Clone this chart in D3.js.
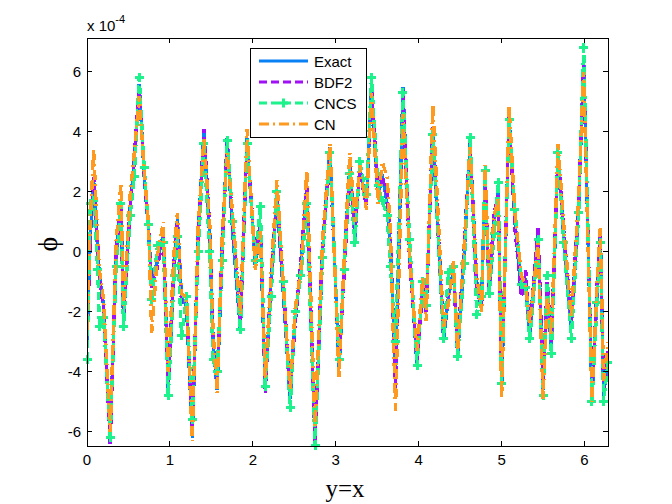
<!DOCTYPE html>
<html>
<head>
<meta charset="utf-8">
<script src="https://cdn.jsdelivr.net/npm/d3@7"></script>
<style>
  body { margin: 0; background: #fff; }
  text { font-family: "Liberation Sans", Arial, sans-serif; }
</style>
</head>
<body>
<div id="chart"></div>
<script>
// sample positions along y=x (0 .. 2*pi)
const xs = [0.00, 0.04, 0.08, 0.13, 0.15, 0.20, 0.28, 0.35, 0.41, 0.44,
  0.52, 0.57, 0.63, 0.69, 0.74, 0.78, 0.85, 0.92, 0.98, 1.05,
  1.09, 1.14, 1.20, 1.27, 1.34, 1.41, 1.48, 1.52, 1.57, 1.63,
  1.69, 1.76, 1.85, 1.93, 2.03, 2.09, 2.15, 2.22, 2.29, 2.37,
  2.45, 2.51, 2.58, 2.65, 2.75, 2.84, 2.93, 3.04, 3.10, 3.17,
  3.23, 3.29, 3.37, 3.43, 3.51, 3.56, 3.62, 3.66, 3.72, 3.81,
  3.89, 3.98, 4.05, 4.09, 4.17, 4.30, 4.36, 4.42, 4.47, 4.55,
  4.62, 4.70, 4.76, 4.80, 4.85, 4.91, 4.96, 5.00, 5.09, 5.16,
  5.24, 5.29, 5.34, 5.44, 5.50, 5.55, 5.60, 5.68, 5.75, 5.84,
  5.93, 5.99, 6.09, 6.15, 6.19, 6.23, 6.283];

// phi values, in units of 1e-4
const exact = [-3.0, 0.5, 2.4, 0.0, -0.8, -1.8, -6.2, -0.2, 1.6, -2.3,
  1.5, 3.0, 5.6, 2.5, 0.8, -1.0, -0.3, 0.6, -4.6, -0.5,
  1.1, -1.5, -1.8, -6.2, 0.5, 4.1, 0.5, -3.0, -4.6, 0.0,
  3.8, 0.5, -2.6, 3.8, -0.5, 0.8, -4.6, -1.0, 1.8, -1.5,
  -4.9, -2.2, -0.5, 2.2, -6.4, 0.0, 3.5, -3.9, -0.5, 2.9,
  0.5, 2.8, 1.6, 5.6, 1.8, 2.6, 1.6, 0.2, -4.2, 5.5,
  0.0, -3.8, -1.0, -2.0, 4.0, -2.9, -1.5, -0.6, -3.5, 0.0,
  3.6, -1.0, -1.6, 2.7, -1.4, 1.0, 2.1, -4.6, 4.5, 1.0,
  -1.2, -1.0, -2.9, 0.6, -4.6, -1.2, -3.2, 3.2, 0.5, -2.5,
  1.5, 6.4, -4.9, -1.5, 0.8, -4.8, -3.5];

const bdf2 = [-3.2, 0.6, 2.5, 0.2, -0.9, -1.9, -6.4, 0.0, 1.7, -2.2,
  1.5, 3.2, 5.5, 2.6, 0.9, -1.2, -0.5, 0.5, -4.4, -0.3,
  1.0, -1.7, -1.6, -6.0, 0.4, 4.1, 0.8, -2.9, -4.3, 0.2,
  3.6, 0.8, -2.3, 3.7, -0.2, 1.0, -4.7, -0.8, 1.9, -1.2,
  -4.7, -2.4, -0.3, 2.3, -6.3, 0.2, 3.2, -3.7, -0.8, 2.8,
  0.7, 2.7, 1.5, 5.5, 2.0, 2.5, 1.9, 0.5, -4.6, 5.4,
  -0.3, -3.6, -1.2, -2.0, 4.2, -2.7, -1.3, -0.8, -3.2, 0.3,
  3.7, -1.3, -1.8, 2.6, -1.2, 1.3, 1.9, -4.4, 4.6, 0.8,
  -1.5, -0.6, -2.6, 0.8, -4.4, -1.0, -3.0, 3.3, 0.7, -2.3,
  1.7, 6.3, -4.7, -1.2, 0.6, -4.6, -3.3];

const cncs = [-3.6, 1.6, 1.7, -0.6, -2.5, -2.2, -6.2, -0.5, 1.6, -2.5,
  1.2, 2.5, 5.8, 2.8, 0.9, -1.6, 0.2, 0.3, -4.8, -0.8,
  0.5, -2.8, -1.5, -5.6, 0.0, 3.6, 0.0, -3.6, -4.0, -0.3,
  3.7, 1.0, -2.6, 3.6, -0.3, 1.5, -4.5, -1.5, 2.0, -1.0,
  -5.2, -2.0, -0.8, 1.6, -6.45, -0.2, 3.3, -3.6, -0.6, 2.6,
  0.3, 3.0, 1.9, 5.8, 2.2, 1.7, 1.2, -0.5, -3.0, 5.3,
  0.4, -3.8, -1.0, -1.8, 3.9, -2.9, -0.7, -0.5, -3.5, -0.4,
  3.8, -2.1, -1.5, 2.7, -1.4, 0.6, 2.3, -4.4, 4.4, 1.4,
  -1.1, -1.2, -2.9, 0.4, -4.8, -0.8, -3.4, 3.3, 0.3, -2.9,
  1.3, 6.8, -5.0, -1.7, 0.3, -5.0, -3.7];

const cn = [-2.6, 1.0, 3.4, 0.4, -0.6, -1.6, -6.0, 0.3, 2.3, -1.8,
  1.9, 3.3, 5.2, 2.7, 1.0, -2.7, -0.1, 1.0, -4.0, 0.0,
  1.3, -1.4, -1.5, -6.3, 0.8, 3.8, 1.0, -2.6, -4.7, 0.5,
  3.3, 1.2, -2.1, 4.1, -0.6, 0.7, -4.2, -0.7, 2.4, -1.2,
  -4.6, -1.9, -0.6, 2.7, -5.8, 0.4, 3.6, -4.2, -0.3, 3.3,
  1.0, 2.9, 1.4, 5.3, 1.6, 3.0, 2.5, 0.6, -5.3, 4.6,
  -0.2, -3.3, -0.8, -2.3, 4.9, -2.5, -1.7, -0.3, -3.3, 0.3,
  3.5, -0.8, -2.0, 2.9, -1.0, 1.2, 1.8, -4.9, 4.9, 1.3,
  -0.8, -1.1, -2.4, 0.3, -4.9, -1.5, -2.8, 3.6, 0.9, -2.2,
  1.9, 6.0, -5.0, -1.1, 0.8, -4.3, -3.0];

const xTicks = [0, 1, 2, 3, 4, 5, 6];
const yTicks = [-6, -4, -2, 0, 2, 4, 6];
const names = ["Exact", "BDF2", "CNCS", "CN"];
const colors = ["#0a80f5", "#a010f5", "#1ef28c", "#ff9a20"];
const dashes = [null, "8,4", "8,4", "10,4,2,4"];

const W = 672, H = 504;
const margin = { top: 38, right: 64, bottom: 58, left: 87 };
const width = W - margin.left - margin.right;
const height = H - margin.top - margin.bottom;

const svg = d3.select("#chart").append("svg")
    .attr("width", W)
    .attr("height", H);

const g = svg.append("g")
    .attr("transform", "translate(" + margin.left + "," + margin.top + ")");

const x = d3.scaleLinear().domain([0, 2 * Math.PI]).range([0, width]);
const y = d3.scaleLinear().domain([-6.47, 7.13]).range([height, 0]);

g.append("clipPath").attr("id", "clip")
  .append("rect").attr("width", width).attr("height", height);

const line = d3.line()
    .x((d, i) => x(xs[i]))
    .y(d => y(d));

const series = [exact, bdf2, cncs, cn];

series.forEach((s, k) => {
    g.append("path")
        .datum(s)
        .attr("clip-path", "url(#clip)")
        .attr("d", line)
        .attr("fill", "none")
        .attr("stroke", colors[k])
        .attr("stroke-width", 3.4)
        .attr("shape-rendering", "crispEdges")
        .attr("stroke-dasharray", dashes[k]);
    if (k === 2) {
        // plus markers for CNCS
        g.append("g").selectAll("path")
            .data(s)
            .enter().append("path")
            .attr("d", (d, i) => {
                const cx = x(xs[i]), cy = y(d);
                return `M${cx - 4.5},${cy}H${cx + 4.5}M${cx},${cy - 4.5}V${cy + 4.5}`;
            })
            .attr("stroke", colors[2])
            .attr("stroke-width", 3)
            .attr("shape-rendering", "crispEdges")
            .attr("fill", "none");
    }
});

// box with inward ticks on every side
g.append("rect")
    .attr("width", width).attr("height", height)
    .attr("fill", "none").attr("stroke", "#000").attr("stroke-width", 1)
    .attr("shape-rendering", "crispEdges");

const tk = 5;
const axisG = g.append("g").attr("stroke", "#000").attr("shape-rendering", "crispEdges");
xTicks.forEach(t => {
    axisG.append("line").attr("x1", x(t)).attr("x2", x(t)).attr("y1", height).attr("y2", height - tk);
    axisG.append("line").attr("x1", x(t)).attr("x2", x(t)).attr("y1", 0).attr("y2", tk);
});
yTicks.forEach(t => {
    axisG.append("line").attr("x1", 0).attr("x2", tk).attr("y1", y(t)).attr("y2", y(t));
    axisG.append("line").attr("x1", width).attr("x2", width - tk).attr("y1", y(t)).attr("y2", y(t));
});

g.selectAll(".xl").data(xTicks).enter().append("text")
    .attr("x", d => x(d)).attr("y", height + 19)
    .attr("text-anchor", "middle").attr("font-size", 15)
    .text(d => d);

g.selectAll(".yl").data(yTicks).enter().append("text")
    .attr("x", -6).attr("y", d => y(d) + 5.5)
    .attr("text-anchor", "end").attr("font-size", 15)
    .text(d => d);

// exponent label
const ex = svg.append("text").attr("x", 87).attr("y", 31).attr("font-size", 15);
ex.append("tspan").text("x 10");
ex.append("tspan").attr("dy", -8).attr("font-size", 11).text("-4");

// axis labels
svg.append("text")
    .attr("x", 345).attr("y", 497)
    .attr("text-anchor", "middle")
    .style("font-family", "'Liberation Serif', 'Times New Roman', serif")
    .attr("font-size", 25)
    .text("y=x");

svg.append("text")
    .attr("transform", "translate(57,244) rotate(-90)")
    .attr("text-anchor", "middle")
    .style("font-family", "'Liberation Serif', 'Times New Roman', serif")
    .attr("font-size", 28)
    .text("ϕ");

// legend
const lg = svg.append("g");
lg.append("rect")
    .attr("x", 250).attr("y", 48).attr("width", 116).attr("height", 89)
    .attr("fill", "#fff").attr("stroke", "#000").attr("shape-rendering", "crispEdges");
const rows = [61, 82, 103, 124];
names.forEach((n, k) => {
    lg.append("line")
        .attr("x1", 259).attr("x2", 308).attr("y1", rows[k]).attr("y2", rows[k])
        .attr("stroke", colors[k]).attr("stroke-width", 3)
        .attr("stroke-dasharray", dashes[k]);
    if (k === 2) {
        lg.append("path")
            .attr("d", `M${283.5 - 4.5},${rows[k]}H${283.5 + 4.5}M283.5,${rows[k] - 4.5}V${rows[k] + 4.5}`)
            .attr("stroke", colors[2]).attr("stroke-width", 3);
    }
    lg.append("text")
        .attr("x", 314).attr("y", rows[k] + 5.5)
        .attr("font-size", 15)
        .text(n);
});
</script>
</body>
</html>
